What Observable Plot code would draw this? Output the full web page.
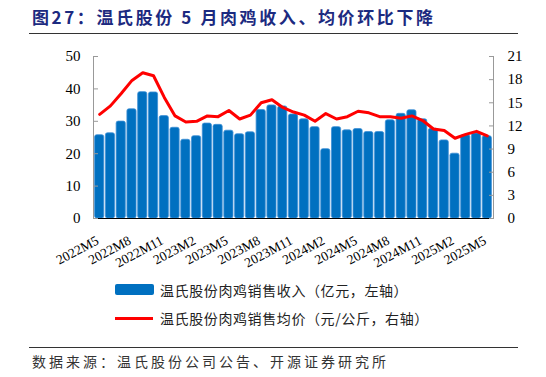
<!DOCTYPE html>
<html>
<head>
<meta charset="utf-8">
<script src="https://cdn.jsdelivr.net/npm/d3@7"></script>
<script src="https://cdn.jsdelivr.net/npm/@observablehq/plot@0.6"></script>
<style>
  html, body { margin: 0; padding: 0; background: #fff; }
  #page { position: relative; width: 546px; height: 377px; overflow: hidden; font-family: "Noto Sans CJK SC", sans-serif; }
  #title { position: absolute; left: 32px; top: 4px; font-size: 17px; font-weight: bold; color: #1c2a80; letter-spacing: 2.6px; white-space: nowrap; }
  .hr { position: absolute; left: 29px; width: 489px; height: 1px; background: #333; }
  #chart { position: absolute; left: 0; top: 40px; }
  .leg { position: absolute; left: 160px; font-size: 14px; color: #222; letter-spacing: 0.6px; white-space: nowrap; }
  #src { position: absolute; left: 32px; top: 351px; font-size: 14px; color: #333; letter-spacing: 3px; white-space: nowrap; }
</style>
</head>
<body>
<div id="page">
  <div id="title">图27：温氏股份 5 月肉鸡收入、均价环比下降</div>
  <div class="hr" style="top:33px"></div>
  <div id="chart"></div>
  <div style="position:absolute;left:115px;top:284px;width:39px;height:11px;background:#0070C0;border-radius:2px"></div>
  <div class="leg" style="top:280px">温氏股份肉鸡销售收入（亿元，左轴）</div>
  <div style="position:absolute;left:115px;top:317px;width:38px;height:3px;background:#ff0000"></div>
  <div class="leg" style="top:308px">温氏股份肉鸡销售均价（元/公斤，右轴）</div>
  <div class="hr" style="top:347px"></div>
  <div id="src">数据来源：温氏股份公司公告、开源证券研究所</div>
</div>
<script>
const months = ["2022M5","2022M6","2022M7","2022M8","2022M9","2022M10","2022M11","2022M12",
  "2023M1","2023M2","2023M3","2023M4","2023M5","2023M6","2023M7","2023M8","2023M9","2023M10","2023M11","2023M12",
  "2024M1","2024M2","2024M3","2024M4","2024M5","2024M6","2024M7","2024M8","2024M9","2024M10","2024M11","2024M12",
  "2025M1","2025M2","2025M3","2025M4","2025M5"];
const revenue = [25.7,26.3,29.9,33.7,39.0,38.9,31.6,28.0,
  24.3,25.4,29.3,28.9,27.1,26.0,26.6,33.5,34.9,34.6,32.1,30.6,
  28.2,21.4,28.2,27.2,27.6,26.7,26.7,30.3,32.3,33.4,30.6,27.7,
  24.1,20.0,25.7,26.2,25.4];
const price = [13.5,14.6,16.2,17.9,18.9,18.5,15.7,13.3,
  12.5,12.6,13.3,13.2,14.0,12.9,13.4,15.0,15.4,14.4,13.8,13.4,
  12.6,13.6,12.9,13.2,13.9,13.7,13.2,13.2,13.0,13.3,12.7,11.6,
  11.4,10.4,10.9,11.3,10.7];
const xTickLabels = ["2022M5","2022M8","2022M11","2023M2","2023M5","2023M8","2023M11","2024M2","2024M5","2024M8","2024M11","2025M2","2025M5"];
const leftTicks = [0,10,20,30,40,50];
const rightTicks = [0,3,6,9,12,15,18,21];
const leftMax = 50, rightMax = 21;
const k = leftMax / rightMax;

const data = months.map((m, i) => ({m, rev: revenue[i], price: price[i]}));
const serif = "'Liberation Serif', 'Times New Roman', serif";

const chart = Plot.plot({
  width: 546,
  height: 240,
  marginTop: 16,
  marginBottom: 62,
  marginLeft: 93,
  marginRight: 53,
  style: {fontFamily: serif, fontSize: "15px", color: "#000", background: "transparent"},
  x: {domain: months, padding: 0.15, round: false, label: null},
  y: {domain: [0, leftMax], label: null},
  marks: [
    Plot.barY(data, {x: "m", y: "rev", fill: "#0070C0", stroke: "#3d8fd6", strokeWidth: 0.8, rx: 2}),
    Plot.frame({anchor: "left", stroke: "#999"}),
    Plot.frame({anchor: "right", stroke: "#999"}),
    Plot.ruleY([0], {stroke: "#000", strokeWidth: 1}),
    Plot.axisY(leftTicks, {anchor: "left", label: null, tickSize: 5, dx: 5, stroke: "#999", tickFormat: () => ""}),
    Plot.axisY(leftTicks, {anchor: "left", label: null, tickSize: 0, tickPadding: 13, fontSize: 15}),
    Plot.axisY(rightTicks.map(v => v * k), {anchor: "right", label: null, tickSize: 5, dx: -5, stroke: "#999", tickFormat: () => ""}),
    Plot.axisY(rightTicks.map(v => v * k), {anchor: "right", label: null, tickSize: 0, tickPadding: 14, fontSize: 15, tickFormat: v => String(Math.round(v / k))}),
    Plot.axisX(xTickLabels, {anchor: "bottom", label: null, tickSize: 0, tickPadding: 8, tickRotate: -28, fontSize: 13.5, dx: -2, dy: 13}),
    Plot.line(data, {x: "m", y: d => d.price * k, stroke: "#ff0000", strokeWidth: 3, strokeLinejoin: "round"})
  ]
});
document.getElementById("chart").appendChild(chart);
</script>
</body>
</html>
